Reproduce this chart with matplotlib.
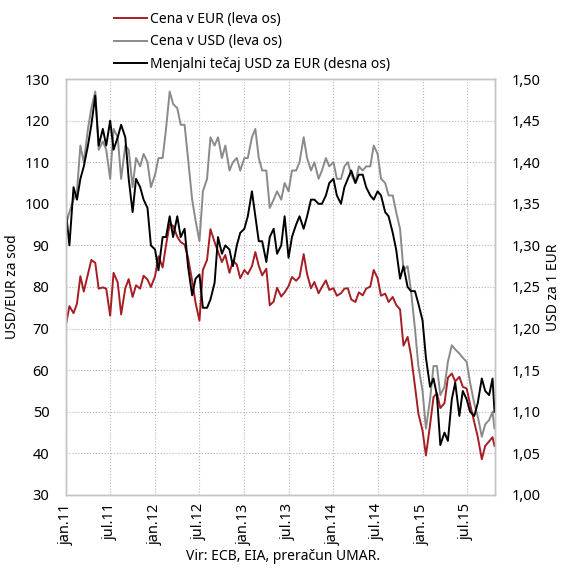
import matplotlib
matplotlib.use("Agg")
import matplotlib.pyplot as plt
from matplotlib.ticker import FuncFormatter
from matplotlib.lines import Line2D
import pandas as pd

plt.rcParams['font.family'] = ['Noto Sans', 'DejaVu Sans']

# Semi-monthly readings (1st and 15th of each month), last point late Oct 2015
dates = list(pd.date_range('2011-01-01', '2015-10-15', freq='SMS')) + [pd.Timestamp('2015-10-23')]

# Brent price in USD per barrel (left axis)
price_usd = [
    95, 98, 101, 103, 114, 110, 118, 123, 127, 113, 115, 113,
    106, 118, 116, 106, 114, 113, 104, 111, 109, 112, 110, 104,
    107, 111, 111, 118, 127, 124, 123, 119, 119, 111, 101, 96,
    91, 103, 106, 116, 114, 116, 111, 114, 108, 110, 111, 108,
    111, 111, 116, 118, 111, 108, 108, 99, 101, 103, 101, 105,
    103, 108, 108, 110, 116, 111, 108, 110, 106, 108, 111, 109,
    110, 106, 106, 109, 110, 107, 105, 109, 108, 109, 109, 114,
    112, 106, 105, 102, 102, 98, 94, 84, 85, 79, 70, 61,
    55, 46, 53, 61, 61, 54, 56, 62, 66, 65, 64, 63,
    62, 57, 52, 49, 44, 47, 48, 50, 46,
]

# Brent price in EUR per barrel (left axis)
price_eur = [
    70.9, 75.4, 73.7, 76.0, 82.6, 78.9, 83.1, 86.5, 85.8, 79.6, 79.9, 79.6,
    73.1, 83.4, 81.1, 73.4, 79.7, 81.9, 77.6, 80.4, 79.6, 82.7, 81.8, 80.0,
    82.6, 87.4, 84.7, 90.1, 95.1, 94.7, 92.1, 90.8, 90.2, 87.1, 81.5, 76.2,
    71.9, 84.1, 86.5, 93.9, 90.8, 88.5, 86.0, 87.7, 83.4, 86.3, 85.4, 82.1,
    84.1, 83.1, 85.0, 88.4, 85.1, 82.8, 84.4, 75.6, 76.5, 79.8, 77.7, 78.7,
    80.2, 82.4, 81.5, 82.4, 87.9, 83.1, 79.7, 81.2, 78.5, 80.0, 81.6, 79.3,
    79.7, 77.9, 78.5, 79.6, 79.7, 77.0, 76.4, 78.7, 78.0, 79.6, 80.1, 84.1,
    82.1, 77.9, 78.4, 76.4, 77.6, 75.7, 74.6, 65.9, 68.0, 63.5, 56.2, 49.6,
    45.5, 39.5, 46.9, 53.5, 54.5, 50.9, 52.1, 58.2, 59.2, 57.3, 58.4, 56.0,
    55.6, 51.8, 47.5, 44.1, 38.6, 41.8, 42.9, 43.9, 41.8,
]

# USD per 1 EUR (right axis)
fx_rate = [
    1.34, 1.30, 1.37, 1.355, 1.38, 1.395, 1.42, 1.445, 1.48, 1.42, 1.44, 1.42,
    1.45, 1.415, 1.43, 1.445, 1.43, 1.38, 1.34, 1.38, 1.37, 1.355, 1.345, 1.30,
    1.295, 1.27, 1.31, 1.31, 1.335, 1.31, 1.335, 1.31, 1.32, 1.275, 1.24, 1.26,
    1.265, 1.225, 1.225, 1.235, 1.255, 1.31, 1.29, 1.30, 1.295, 1.275, 1.30, 1.315,
    1.32, 1.335, 1.365, 1.335, 1.305, 1.305, 1.28, 1.31, 1.32, 1.29, 1.30, 1.335,
    1.285, 1.31, 1.325, 1.335, 1.32, 1.335, 1.355, 1.355, 1.35, 1.35, 1.36, 1.375,
    1.38, 1.36, 1.35, 1.37, 1.38, 1.39, 1.375, 1.385, 1.385, 1.37, 1.36, 1.355,
    1.365, 1.36, 1.34, 1.335, 1.315, 1.295, 1.26, 1.275, 1.25, 1.245, 1.245, 1.23,
    1.21, 1.165, 1.13, 1.14, 1.12, 1.06, 1.075, 1.065, 1.115, 1.135, 1.095, 1.125,
    1.115, 1.10, 1.095, 1.11, 1.14, 1.125, 1.12, 1.14, 1.10,
]

tick_dates = ['2011-01-01', '2011-07-01', '2012-01-01', '2012-07-01', '2013-01-01',
              '2013-07-01', '2014-01-01', '2014-07-01', '2015-01-01', '2015-07-01']
tick_labels = ['jan.11', 'jul.11', 'jan.12', 'jul.12', 'jan.13',
               'jul.13', 'jan.14', 'jul.14', 'jan.15', 'jul.15']

red = '#a51e24'
grey = '#8a8a8a'
frame = '#c4c4c4'

fig = plt.figure(figsize=(5.63, 5.70), dpi=100)
ax = fig.add_axes([0.1172, 0.1316, 0.762, 0.7298])
ax2 = ax.twinx()

ax.plot(dates, price_eur, color=red, linewidth=1.4)
ax.plot(dates, price_usd, color=grey, linewidth=1.4)
ax2.plot(dates, fx_rate, color='black', linewidth=1.4)

# Axes limits and ticks
ax.set_xlim(pd.Timestamp('2011-01-01'), pd.Timestamp('2015-10-25'))
ax.set_ylim(30, 130)
ax.set_yticks(range(30, 131, 10))
ax2.set_ylim(1.0, 1.5)
ax2.set_yticks([1.0 + 0.05 * i for i in range(11)])
ax2.yaxis.set_major_formatter(FuncFormatter(lambda v, p: f"{v:.2f}".replace('.', ',')))

ax.set_xticks([pd.Timestamp(d) for d in tick_dates])
ax.set_xticklabels(tick_labels, rotation=90, fontsize=10.5)

ax.tick_params(axis='y', length=0, pad=12, labelsize=10.5)
ax.tick_params(axis='x', length=0, pad=6)
ax2.tick_params(axis='y', length=0, pad=12, labelsize=10.5)

ax.grid(True, linestyle=':', color='#b5b5b5', linewidth=0.8)

for a in (ax, ax2):
    for s in a.spines.values():
        s.set_color(frame)
        s.set_linewidth(1.0)

ax.set_ylabel('USD/EUR za sod', fontsize=10, labelpad=3)
ax2.set_ylabel('USD za 1 EUR', fontsize=10, labelpad=4)

# Legend above the plot
handles = [Line2D([], [], color=red, linewidth=1.4),
           Line2D([], [], color=grey, linewidth=1.4),
           Line2D([], [], color='black', linewidth=1.4)]
labels = ['Cena v EUR (leva os)', 'Cena v USD (leva os)',
          'Menjalni tečaj USD za EUR (desna os)']
fig.legend(handles, labels, loc='upper left', bbox_to_anchor=(0.187, 0.994),
           frameon=False, fontsize=10, handlelength=2.4, handletextpad=0.2,
           labelspacing=0.55, borderaxespad=0.2)

fig.text(0.503, 0.017, 'Vir: ECB, EIA, preračun UMAR.', ha='center', fontsize=10)

fig.savefig('out.png', dpi=100)
